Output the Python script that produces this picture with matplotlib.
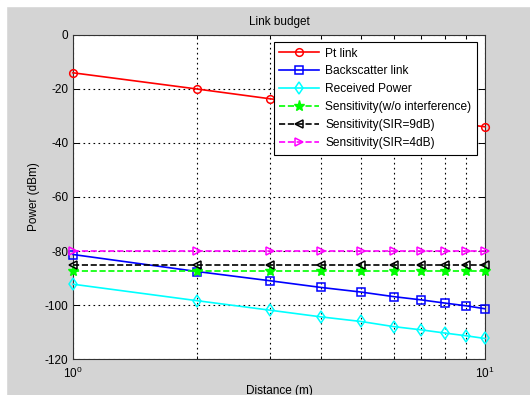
import matplotlib
matplotlib.use("Agg")
import matplotlib.pyplot as plt
from matplotlib.patches import Rectangle
from matplotlib.ticker import FixedLocator, NullFormatter, FixedFormatter

plt.rcParams['font.family'] = ['Liberation Sans', 'DejaVu Sans']
plt.rcParams['mathtext.fontset'] = 'custom'
plt.rcParams['mathtext.rm'] = 'Liberation Sans'
plt.rcParams['axes.unicode_minus'] = False

distance = [1, 2, 3, 4, 5, 6, 7, 8, 9, 10]
pt_link = [-14, -20, -23.6, -26, -28, -29.6, -30.9, -32.1, -33.1, -34]
backscatter = [-81.3, -87.6, -91, -93.5, -95.2, -96.9, -98.1, -99.3, -100.3, -101.4]
received = [-92.3, -98.4, -101.9, -104.4, -106.1, -108, -109.2, -110.4, -111.4, -112.4]
sens_noint = [-87.5] * 10
sens_sir9 = [-85] * 10
sens_sir4 = [-80] * 10

labels = ['Pt link', 'Backscatter link', 'Received Power',
          'Sensitivity(w/o interference)', 'Sensitivity(SIR=9dB)', 'Sensitivity(SIR=4dB)']
y_ticks = [0, -20, -40, -60, -80, -100, -120]

fig = plt.figure(figsize=(5.3, 3.95), dpi=100)
fig.patch.set_facecolor('#d4d4d4')
# white screenshot margins
fig.patches.append(Rectangle((0, 0), 6/530, 1, transform=fig.transFigure, color='white', zorder=0))
fig.patches.append(Rectangle((0, 1 - 6/395), 1, 6/395, transform=fig.transFigure, color='white', zorder=0))

ax = fig.add_axes([73/530, 1 - 359/395, 412/530, 324/395])
ax.set_facecolor('white')

ms = 5.5
lw = 1.2
mew = 1.1
ax.plot(distance, pt_link, '-o', color='red', mfc='none', ms=ms, lw=lw, mew=mew, label=labels[0], clip_on=False, zorder=3)
ax.plot(distance, backscatter, '-s', color='blue', mfc='none', ms=ms, lw=lw, mew=mew, label=labels[1], clip_on=False, zorder=3)
ax.plot(distance, received, '-d', color='cyan', mfc='none', ms=ms + 0.5, lw=lw, mew=mew, label=labels[2], clip_on=False, zorder=3)
ax.plot(distance, sens_noint, '--*', color='#00ff00', ms=8, lw=lw, label=labels[3], clip_on=False, zorder=3)
ax.plot(distance, sens_sir9, '--<', color='black', mfc='none', ms=ms, lw=lw, mew=mew, label=labels[4], clip_on=False, zorder=3)
ax.plot(distance, sens_sir4, '-->', color='magenta', mfc='none', ms=ms, lw=lw, mew=mew, label=labels[5], clip_on=False, zorder=3)

ax.set_xscale('log')
ax.set_xlim(1, 10)
ax.set_ylim(-120, 0)
ax.set_yticks(y_ticks)
ax.xaxis.set_major_locator(FixedLocator([1, 10]))
ax.xaxis.set_major_formatter(FixedFormatter([r'$10^0$', r'$10^1$']))
ax.xaxis.set_minor_locator(FixedLocator([2, 3, 4, 5, 6, 7, 8, 9]))
ax.xaxis.set_minor_formatter(NullFormatter())

ax.grid(True, which='both', axis='x', color='black', linestyle=(0, (1.5, 3)), lw=0.8)
ax.grid(True, which='major', axis='y', color='black', linestyle=(0, (1.5, 3)), lw=0.8)
ax.set_axisbelow(True)

ax.tick_params(axis='both', which='both', direction='in', top=True, right=True,
               labelsize=8.5, colors='black', length=4, width=0.7)
ax.tick_params(axis='x', which='minor', length=2.5)
ax.tick_params(axis='x', pad=5)
for s in ax.spines.values():
    s.set_linewidth(0.8)
    s.set_color('#333333')

ax.set_title('Link budget', fontsize=8.5, pad=7)
ax.set_xlabel('Distance (m)', fontsize=8.5, labelpad=3)
ax.set_ylabel('Power (dBm)', fontsize=8.5, labelpad=3)

leg = ax.legend(loc='upper left', bbox_to_anchor=(0.488, 0.978), fontsize=8.6,
                frameon=True, fancybox=False, edgecolor='black', framealpha=1,
                handlelength=3.3, borderpad=0.45, labelspacing=0.5, handletextpad=0.55,
                borderaxespad=0)
leg.get_frame().set_linewidth(0.8)
leg.set_zorder(5)

fig.savefig('out.png', dpi=100, facecolor=fig.get_facecolor())
